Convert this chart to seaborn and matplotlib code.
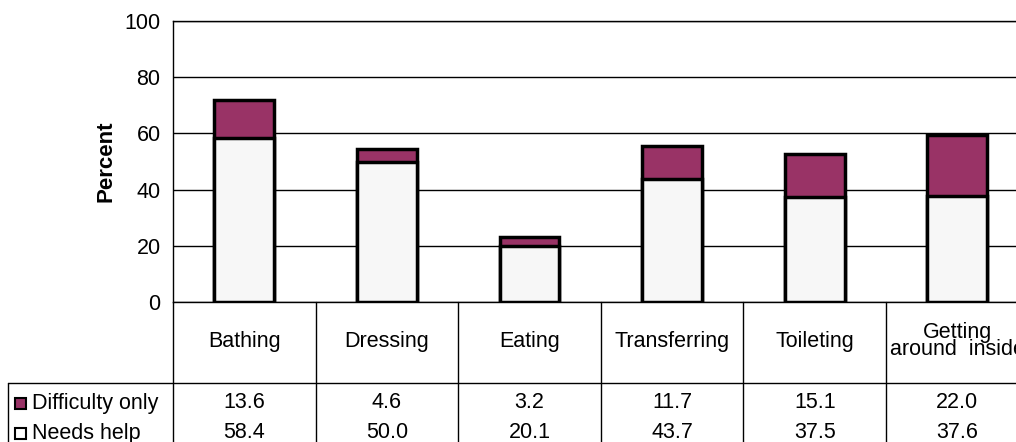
import matplotlib.pyplot as plt
import matplotlib.transforms as mtransforms
import pandas as pd
import seaborn as sns
from matplotlib.patches import Rectangle

CATEGORIES = ["Bathing", "Dressing", "Eating", "Transferring", "Toileting",
              "Getting\naround  inside"]
DIFFICULTY_ONLY = [13.6, 4.6, 3.2, 11.7, 15.1, 22.0]
NEEDS_HELP = [58.4, 50.0, 20.1, 43.7, 37.5, 37.6]
SERIES_LABELS = ["Difficulty only", "Needs help"]
Y_TICKS = [0, 20, 40, 60, 80, 100]

MAROON = "#993366"
PALE = "#F7F7F7"
W, H = 1016, 442
FS = 15.5

sns.set_style("white")
plt.rcParams["font.family"] = ["Liberation Sans", "DejaVu Sans"]
plt.rcParams["font.size"] = FS
for key in ["text.color", "axes.labelcolor", "xtick.color", "ytick.color"]:
    plt.rcParams[key] = "black"

data = pd.DataFrame({"activity": CATEGORIES,
                     "difficulty": DIFFICULTY_ONLY,
                     "help": NEEDS_HELP})
data["total"] = data["difficulty"] + data["help"]

fig = plt.figure(figsize=(W / 100, H / 100), dpi=100)
ax = fig.add_axes([173 / W, (H - 302) / H, 855.6 / W, 281 / H])

# stacked bars: draw totals first, then the lower segment on top
bar_kw = dict(width=0.42, edgecolor="black", linewidth=2.5, saturation=1, ax=ax)
sns.barplot(data=data, x="activity", y="total", color=MAROON, **bar_kw)
sns.barplot(data=data, x="activity", y="help", color=PALE, **bar_kw)

ax.set_xlim(-0.5, len(CATEGORIES) - 0.5)
ax.set_ylim(0, 100)
ax.set_yticks(Y_TICKS)
ax.set_xticks([])
ax.set_xlabel("")
ax.set_ylabel("Percent", fontweight="bold", fontsize=16)
ax.yaxis.set_label_coords(-0.066, 0.5)
ax.tick_params(axis="y", length=4, width=1, color="black", pad=5, labelsize=FS)
ax.yaxis.grid(True, color="black", linewidth=1)
ax.set_axisbelow(True)
for side in ["left", "bottom", "top"]:
    ax.spines[side].set_color("black")
    ax.spines[side].set_linewidth(1)
ax.spines["right"].set_visible(False)

# data table under the chart
col_tr = mtransforms.blended_transform_factory(ax.transData, ax.transAxes)
row_tr = mtransforms.blended_transform_factory(fig.transFigure, ax.transAxes)
y_bottom = -(H - 302) / 281
y_rule = -(383 - 302) / 281
for i in range(len(CATEGORIES) + 1):
    ax.plot([i - 0.5, i - 0.5], [0, y_bottom], color="black", lw=1,
            transform=col_tr, clip_on=False)
ax.plot([8 / W, 1.0], [y_rule, y_rule], color="black", lw=1,
        transform=row_tr, clip_on=False)
ax.plot([8 / W, 8 / W], [y_rule, y_bottom], color="black", lw=1,
        transform=row_tr, clip_on=False)

row_y = [-(403 - 302) / 281, -(433 - 302) / 281]
for i, name in enumerate(CATEGORIES):
    ax.text(i, -(341 - 302) / 281, name, transform=col_tr, ha="center",
            va="center", fontsize=FS, linespacing=0.8, clip_on=False)
    for y, series in zip(row_y, [DIFFICULTY_ONLY, NEEDS_HELP]):
        ax.text(i, y, f"{series[i]:.1f}", transform=col_tr, ha="center",
                va="center", fontsize=FS, clip_on=False)

for y, label, colour in zip(row_y, SERIES_LABELS, [MAROON, "white"]):
    ax.text(32 / W, y, label, transform=row_tr, ha="left", va="center",
            fontsize=FS, clip_on=False)
    yc = (H - 302) / H + y * 281 / H
    fig.add_artist(Rectangle((15 / W, yc - 5.5 / H), 11 / W, 11 / H,
                             facecolor=colour, edgecolor="black", lw=1.5,
                             transform=fig.transFigure))

fig.savefig("out.png", dpi=100)
